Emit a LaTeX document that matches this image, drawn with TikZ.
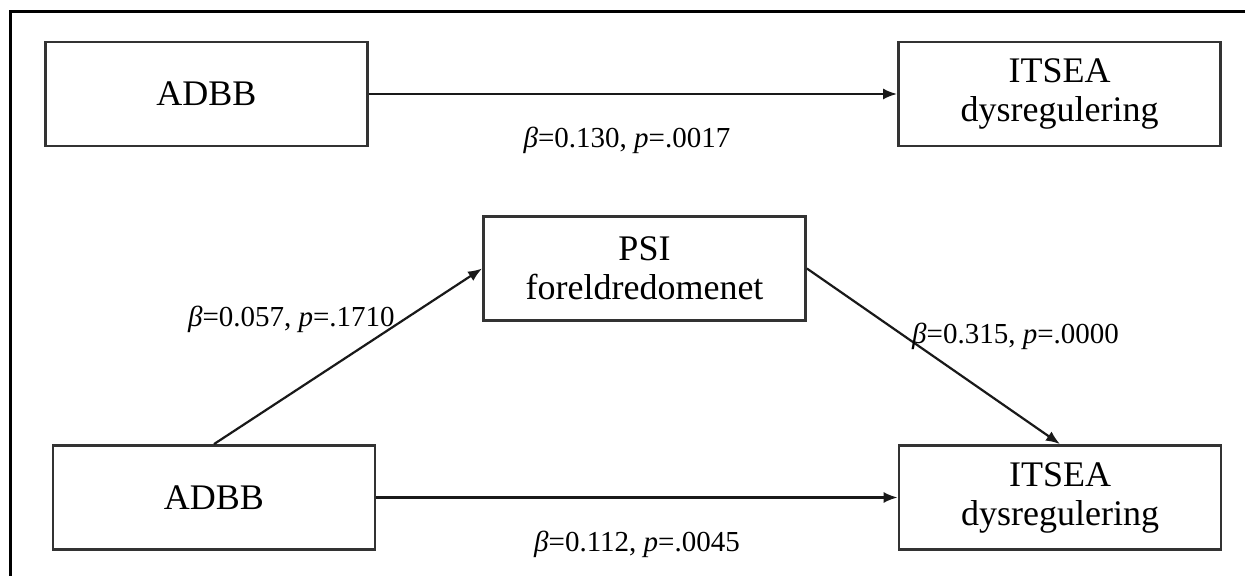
\documentclass[tikz,border=0pt]{standalone}
\usepackage{fontspec}
\setmainfont{Liberation Serif}
\usetikzlibrary{positioning,arrows.meta}

\tikzset{
  box/.style={draw=black!80, line width=1.4pt, minimum width=161pt, minimum height=52pt,
    align=center, inner sep=2pt, font=\fontsize{18}{19.5}\selectfont},
  link/.style={draw=black!90, line width=1.1pt, -{Latex[length=7pt,width=5.5pt]}},
  coef/.style={inner sep=0pt, font=\fontsize{14.5}{16}\selectfont},
}

\begin{document}
\begin{tikzpicture}[x=0.5pt, y=-0.5pt]

      \useasboundingbox (0,0) rectangle (1245,576);
      \draw[line width=1.5pt] (10,576) -- (10,12) -- (1245,12);

      % Define nodes
	  \node[box] (adbb-a)  at (206.5,94)   {ADBB};
	  \node[box] (itsea-a) at (1059.5,94)  {ITSEA\\dysregulering};
	  \node[box] (psi)     at (644.5,268.5) {PSI\\foreldredomenet};
	  \node[box] (adbb-b)  at (214,497.5)  {ADBB};
	  \node[box] (itsea-b) at (1060,497.5) {ITSEA\\dysregulering};

	  % Connect the nodes
	  \draw[link] (adbb-a) -- node[coef, below=16pt, xshift=-3pt] {\textit{β}=0.130, \textit{p}=.0017} (itsea-a);
	  \draw[link] (adbb-b.north) -- node[coef, pos=0.708, anchor=east, xshift=-4pt] {\textit{β}=0.057, \textit{p}=.1710} (psi.west);
	  \draw[link] (psi.east) -- node[coef, pos=0.384, anchor=west, xshift=3.5pt] {\textit{β}=0.315, \textit{p}=.0000} (itsea-b.north);
	  \draw[link] (adbb-b) -- node[coef, below=16pt] {\textit{β}=0.112, \textit{p}=.0045} (itsea-b);

	\end{tikzpicture}
\end{document}
